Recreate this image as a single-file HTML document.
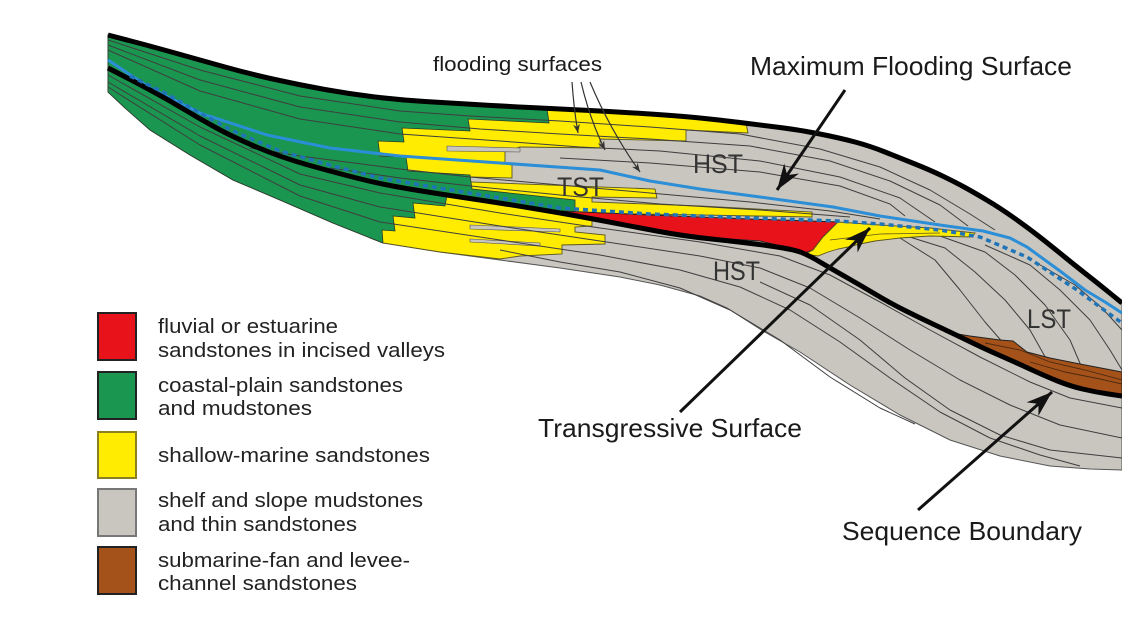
<!DOCTYPE html>
<html><head><meta charset="utf-8"><style>
html,body{margin:0;padding:0;background:#fff;}
svg{display:block;}
text{font-family:"Liberation Sans",Arial,sans-serif;}
</style></head><body>
<svg width="1122" height="631" viewBox="0 0 1122 631" xmlns="http://www.w3.org/2000/svg">
<defs>
<marker id="ah" viewBox="-28 -11 30 22" refX="0" refY="0" markerWidth="30" markerHeight="22" markerUnits="userSpaceOnUse" orient="auto">
<path d="M0,0 L-26,-9 L-18,0 L-26,9 Z" fill="#111"/>
</marker>
<marker id="sah" viewBox="-11 -5 12 10" refX="0" refY="0" markerWidth="12" markerHeight="10" markerUnits="userSpaceOnUse" orient="auto">
<path d="M0,0 L-9,-3.5 L-6,0 L-9,3.5 Z" fill="#333"/>
</marker>
</defs>
<rect width="1122" height="631" fill="#fff"/>

<!-- gray body -->
<polygon fill="#c9c6bf" stroke="#555" stroke-width="1" points="108,35 150,46 200,60 250,74 300,85 350,94 400,100 450,103 500,106 560,109 620,112 680,116 720,120 760,125 800,130 840,138 870,146 900,158 930,170 955,182 975,193 1000,208 1027,227 1050,245 1077,267 1100,285 1122,303 1122,470 1090,469 1050,466 1000,456 950,440 900,415 850,385 800,352 763,331 727,308 700,296 660,285 620,277 560,268 500,260 440,252 383,243 333,223 280,200 233,180 190,155 150,130 125,108 108,92"/>

<!-- yellow upper -->
<polygon fill="#ffec00" stroke="#5a5520" stroke-width="0.9" points="370,96 400,100 450,103 500,106 560,109 620,112 680,116 720,120 746,123 748,133 686,130 686,141 600,139 600,148 520,147 505,152 505,163 512,165 512,178 470,177 470,182 655,189 657,198 592,197 592,202 700,206 812,212 812,217 700,215 575,213 560,212 500,203 433,192 370,180"/>
<!-- yellow lower -->
<polygon fill="#ffec00" stroke="#5a5520" stroke-width="0.9" points="370,178 433,192 500,203 567,213 592,216 592,226 575,227 575,232 605,235 605,244 562,245 562,254 520,256 500,259 440,252 383,243 370,238"/>
<!-- gray slivers in yellow -->
<polygon fill="#c9c6bf" stroke="#555" stroke-width="0.6" points="447,146 520,148 520,152 447,151"/>
<polygon fill="#c9c6bf" stroke="#555" stroke-width="0.6" points="470,225 560,229 560,232 470,229"/>
<polygon fill="#c9c6bf" stroke="#555" stroke-width="0.6" points="470,239 540,243 540,246 470,242"/>

<!-- green -->
<polygon fill="#1b9650" stroke="#2a3a2a" stroke-width="0.8" points="108,35 150,46 200,60 250,74 300,85 350,94 400,100 450,103 500,106 547,108.5 549,123 468,119 470,131 402,128 404,142 378,141 380,156 406,157 408,171 470,175 472,189 575,200 575,213 567,213 500,203 447,195 445,206 413,203 415,218 393,216 395,231 382,230 383,243 333,223 280,200 233,180 190,155 150,130 125,108 108,92"/>

<!-- bedding lines -->
<g fill="none" stroke="#3e3e3e" stroke-width="1" stroke-linejoin="round">
<polyline points="108,40 200,70 300,96 400,111 470,116 560,121 650,127 740,134 820,149 880,167 930,190 970,214 995,230"/>
<polyline points="108,45 200,80 300,107 400,122 480,129 560,134 650,139 750,146 830,161 890,181 940,205 968,226"/>
<polyline points="108,50 200,91 300,119 400,134 500,141 580,147 660,151 760,161 840,177 900,198 935,222"/>
<polyline points="560,158 650,163 760,172 840,186 890,204 905,216"/>
<polyline points="250,148 300,156 400,169 470,177 560,185 650,193 750,202 830,211 880,219"/>
<polyline points="330,168 400,178 480,187 570,196 660,204 760,210 850,217"/>
<polyline points="108,75 200,127 300,174 380,193 500,213 600,228 700,242 780,256 830,275 880,302 930,330 980,357 1030,382 1070,398 1122,408"/>
<polyline points="108,82 200,136 300,185 380,207 500,226 600,241 700,256 760,268 810,288 860,318 910,350 960,380 1010,405 1060,425 1122,438"/>
<polyline points="108,87 200,145 300,196 380,222 500,240 600,255 680,270 740,287 790,310 840,342 890,378 940,412 990,438 1040,455 1080,466"/>
<polyline points="500,250 560,262 620,272 680,288 730,310 780,340 830,377 880,408 915,424"/>
<polyline points="760,282 810,305 860,340 905,378 950,410 1000,435 1050,450 1122,458"/>
<polyline points="860,228 900,238 935,260 960,290 985,322 1005,345"/>
<polyline points="900,234 945,248 975,272 1005,300 1030,330 1048,362"/>
<polyline points="940,236 985,252 1015,275 1045,305 1070,340 1085,375"/>
<polyline points="985,245 1030,265 1060,290 1090,320 1110,350 1122,370"/>
<polyline points="1035,262 1075,285 1102,308 1122,330"/>
</g>

<!-- red valley fill -->
<polygon fill="#e8121b" stroke="#222" stroke-width="1" points="560,211 650,215 750,219 838,222 823,237 813,250 805,253 790,248 760,241 700,237 690,238 677,234 627,226 575,216"/>
<!-- yellow right of red -->
<polygon fill="#ffec00" stroke="#5a5520" stroke-width="0.9" points="805,254 813,250 823,237 838,222 880,225 930,228 975,233 972,237 930,236 900,238 875,241 860,244 848,247 838,249 828,252 818,256"/>
<polyline fill="none" stroke="#5a5520" stroke-width="0.8" points="830,240 880,234 940,233"/>
<!-- brown fan -->
<polygon fill="#a5521a" stroke="#222" stroke-width="1" points="945,332 970,336 1000,340 1013,341 1027,352 1050,358 1080,364 1122,372 1122,395 1095,391 1070,385 1045,375 1017,362 985,348 960,338"/>
<g fill="none" stroke="#4a2a10" stroke-width="0.9">
<polyline points="985,343 1020,350 1050,362 1085,370 1122,380"/>
<polyline points="1030,362 1065,372 1100,379 1122,384"/>
</g>

<!-- blue MFS -->
<polyline fill="none" stroke="#2b8ed6" stroke-width="3" stroke-linejoin="round" points="108,60 150,88 200,113 267,135 330,148 400,156 500,163 600,170 650,181 700,189 760,197 833,207 880,216 940,225 983,231 1010,238 1027,247 1060,271 1085,290 1105,302 1122,313"/>

<!-- thick black lines (smoothed) -->
<path fill="none" stroke="#000" stroke-width="5" stroke-linejoin="round" d="M108,68 L121.5,75 Q135,82 151,90.5 Q167,99 183.5,109 Q200,119 216.5,128 Q233,137 256.5,147 Q280,157 306.5,164.5 Q333,172 356.5,178 Q380,184 406.5,188.5 Q433,193 466.5,198 Q500,203 533.5,208.5 Q567,214 598.5,220 Q630,226 656.5,231 Q683,236 711.5,239 Q740,242 766.5,245.5 Q793,249 801.5,252.5 Q810,256 820,262 Q830,268 845,276.5 Q860,285 875,294 Q890,303 905,310.5 Q920,318 935,325 Q950,332 967.5,340.5 Q985,349 1001,356 Q1017,363 1031,369.5 Q1045,376 1057.5,381 Q1070,386 1082.5,389 Q1095,392 1108.5,394 L1122,396"/>
<path fill="none" stroke="#000" stroke-width="5" stroke-linejoin="round" d="M108,35 L129,40.5 Q150,46 175,53 Q200,60 225,67 Q250,74 275,79.5 Q300,85 325,89.5 Q350,94 375,97 Q400,100 425,101.5 Q450,103 475,104.5 Q500,106 530,107.5 Q560,109 590,110.5 Q620,112 650,114 Q680,116 700,118 Q720,120 740,122.5 Q760,125 780,127.5 Q800,130 820,134 Q840,138 855,142 Q870,146 885,152 Q900,158 915,164 Q930,170 942.5,176 Q955,182 965,187.5 Q975,193 987.5,200.5 Q1000,208 1013.5,217.5 Q1027,227 1038.5,236 Q1050,245 1063.5,256 Q1077,267 1088.5,276 Q1100,285 1111,294 L1122,303"/>

<!-- dashed blue TS -->
<polyline fill="none" stroke="#1f74b8" stroke-width="3.5" stroke-dasharray="5 4" stroke-linejoin="round" points="130,76 167,94 200,113 233,131 280,151 333,166 380,178 433,187 500,198 560,208 650,214 750,218 838,221 880,224 940,230 980,237 1027,257 1077,290 1100,307 1122,323"/>

<!-- flooding surfaces arrows -->
<g fill="none" stroke="#333" stroke-width="1.2">
<path d="M572,82 Q574,110 578,133" marker-end="url(#sah)"/>
<path d="M581,82 Q590,120 605,150" marker-end="url(#sah)"/>
<path d="M590,82 Q610,130 640,172" marker-end="url(#sah)"/>
</g>

<!-- big arrows -->
<g stroke="#111" stroke-width="3" fill="none">
<line x1="845" y1="90" x2="777" y2="190" marker-end="url(#ah)"/>
<line x1="680" y1="412" x2="870" y2="228" marker-end="url(#ah)"/>
<line x1="918" y1="510" x2="1052" y2="392" marker-end="url(#ah)"/>
</g>

<!-- labels -->
<g fill="#1a1a1a">
<text x="433" y="71" font-size="20" textLength="169" lengthAdjust="spacingAndGlyphs">flooding surfaces</text>
<text x="750" y="75" font-size="26" textLength="322" lengthAdjust="spacingAndGlyphs">Maximum Flooding Surface</text>
<text x="538" y="437" font-size="26" textLength="264" lengthAdjust="spacingAndGlyphs">Transgressive Surface</text>
<text x="842" y="540" font-size="26" textLength="240" lengthAdjust="spacingAndGlyphs">Sequence Boundary</text>
</g>
<g fill="#333">
<text x="693" y="173" font-size="27" textLength="50" lengthAdjust="spacingAndGlyphs">HST</text>
<text x="557" y="196" font-size="27" textLength="47" lengthAdjust="spacingAndGlyphs">TST</text>
<text x="713" y="280" font-size="27" textLength="47" lengthAdjust="spacingAndGlyphs">HST</text>
<text x="1027" y="328" font-size="27" textLength="44" lengthAdjust="spacingAndGlyphs">LST</text>
</g>

<!-- legend -->
<g stroke="#222" stroke-width="2">
<rect x="98" y="313" width="38" height="47" fill="#e8121b"/>
<rect x="98" y="372" width="38" height="47" fill="#1b9650"/>
<rect x="98" y="432" width="38" height="46" fill="#ffec00" stroke="#8a8020"/>
<rect x="98" y="489" width="38" height="47" fill="#c9c6bf" stroke="#777"/>
<rect x="98" y="547" width="38" height="47" fill="#a5521a"/>
</g>
<g fill="#222" font-size="20">
<text x="158" y="333" textLength="180" lengthAdjust="spacingAndGlyphs">fluvial or estuarine</text>
<text x="158" y="357" textLength="287" lengthAdjust="spacingAndGlyphs">sandstones in incised valleys</text>
<text x="158" y="392" textLength="245" lengthAdjust="spacingAndGlyphs">coastal-plain sandstones</text>
<text x="158" y="415" textLength="154" lengthAdjust="spacingAndGlyphs">and mudstones</text>
<text x="158" y="462" textLength="272" lengthAdjust="spacingAndGlyphs">shallow-marine sandstones</text>
<text x="158" y="507" textLength="265" lengthAdjust="spacingAndGlyphs">shelf and slope mudstones</text>
<text x="158" y="531" textLength="199" lengthAdjust="spacingAndGlyphs">and thin sandstones</text>
<text x="158" y="567" textLength="252" lengthAdjust="spacingAndGlyphs">submarine-fan and levee-</text>
<text x="158" y="590" textLength="199" lengthAdjust="spacingAndGlyphs">channel sandstones</text>
</g>
</svg>
</body></html>
